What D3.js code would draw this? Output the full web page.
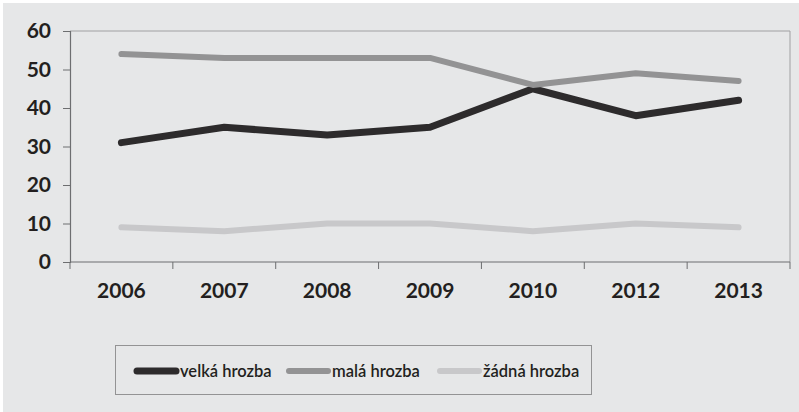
<!DOCTYPE html>
<html>
<head>
<meta charset="utf-8">
<script src="https://cdn.jsdelivr.net/npm/d3@7"></script>
<style>
  body { margin: 0; background: #fff; }
  svg { display: block; }
  text { font-family: Lato, "Open Sans", sans-serif; fill: #231f20; }
</style>
</head>
<body>
<div id="chart"></div>
<script>
// --- data ---
const years = ["2006", "2007", "2008", "2009", "2010", "2012", "2013"];
const velka = [31, 35, 33, 35, 45, 38, 42];
const mala = [54, 53, 53, 53, 46, 49, 47];
const zadna = [9, 8, 10, 10, 8, 10, 9];
const yTicks = [0, 10, 20, 30, 40, 50, 60];

const series = [
    { name: "velká hrozba", values: velka, color: "#2d2b2c", width: 7 },
    { name: "malá hrozba", values: mala, color: "#939394", width: 6 },
    { name: "žádná hrozba", values: zadna, color: "#c8c8ca", width: 6 }
];

const W = 799, H = 412;
const m = { left: 70, top: 31, right: 9, bottom: 150 };

const svg = d3.select("#chart").append("svg")
    .attr("width", W)
    .attr("height", H);

svg.append("rect")
    .attr("x", 3).attr("y", 3)
    .attr("width", W - 3).attr("height", H - 3)
    .attr("fill", "#e6e7e8");

const x = d3.scaleBand()
    .domain(years)
    .range([m.left, W - m.right]);

const y = d3.scaleLinear()
    .domain([0, 60])
    .range([H - m.bottom, m.top]);

// plot frame (top + right)
svg.append("path")
    .attr("d", `M${m.left},${m.top}H${W - m.right}V${H - m.bottom}`)
    .attr("fill", "none")
    .attr("stroke", "#a0a0a2")
    .attr("stroke-width", 1);

// y axis
const yAxis = svg.append("g")
    .attr("transform", `translate(${m.left},0)`)
    .call(d3.axisLeft(y).tickValues(yTicks).tickSize(7).tickPadding(12));

// x axis
const xAxis = svg.append("g")
    .attr("transform", `translate(0,${H - m.bottom})`)
    .call(d3.axisBottom(x).tickSize(0).tickPadding(21));

// tick marks at band edges
const edges = years.map(d => x(d)).concat([x.range()[1]]);
xAxis.selectAll("line.edge")
    .data(edges)
    .enter().append("line")
    .attr("class", "edge")
    .attr("x1", d => d).attr("x2", d => d)
    .attr("y1", 0).attr("y2", 7)
    .attr("stroke", "#6d6e70");

[yAxis, xAxis].forEach(g => {
    g.select(".domain").attr("stroke", "#6d6e70").attr("stroke-width", 1.2);
    g.selectAll(".tick line").attr("stroke", "#6d6e70");
    g.selectAll(".tick text")
        .attr("font-family", "Lato, 'Open Sans', sans-serif")
        .attr("font-size", 21)
        .attr("font-weight", "bold")
        .attr("fill", "#231f20");
});
xAxis.select(".domain").attr("d", `M${m.left},0H${W - m.right}`);

// lines
const line = d3.line()
    .x((d, i) => x(years[i]) + x.bandwidth() / 2)
    .y(d => y(d));

svg.selectAll("path.series")
    .data(series)
    .enter().append("path")
    .attr("class", "series")
    .attr("d", d => line(d.values))
    .attr("fill", "none")
    .attr("stroke", d => d.color)
    .attr("stroke-width", d => d.width)
    .attr("stroke-linecap", "round")
    .attr("stroke-linejoin", "round");

// legend
const legend = svg.append("g");
legend.append("rect")
    .attr("x", 115.5).attr("y", 345.5)
    .attr("width", 476).attr("height", 49)
    .attr("fill", "none")
    .attr("stroke", "#939394");

const legendX = [135, 287, 438];
const item = legend.selectAll("g.item")
    .data(series)
    .enter().append("g")
    .attr("class", "item")
    .attr("transform", (d, i) => `translate(${legendX[i]},371)`);

item.append("line")
    .attr("x1", 2).attr("x2", 41)
    .attr("stroke", d => d.color)
    .attr("stroke-width", d => d.width)
    .attr("stroke-linecap", "round");

item.append("text")
    .attr("x", 45)
    .attr("dy", "0.35em")
    .attr("font-size", 16.5)
    .attr("font-weight", 600)
    .text(d => d.name);
</script>
</body>
</html>
